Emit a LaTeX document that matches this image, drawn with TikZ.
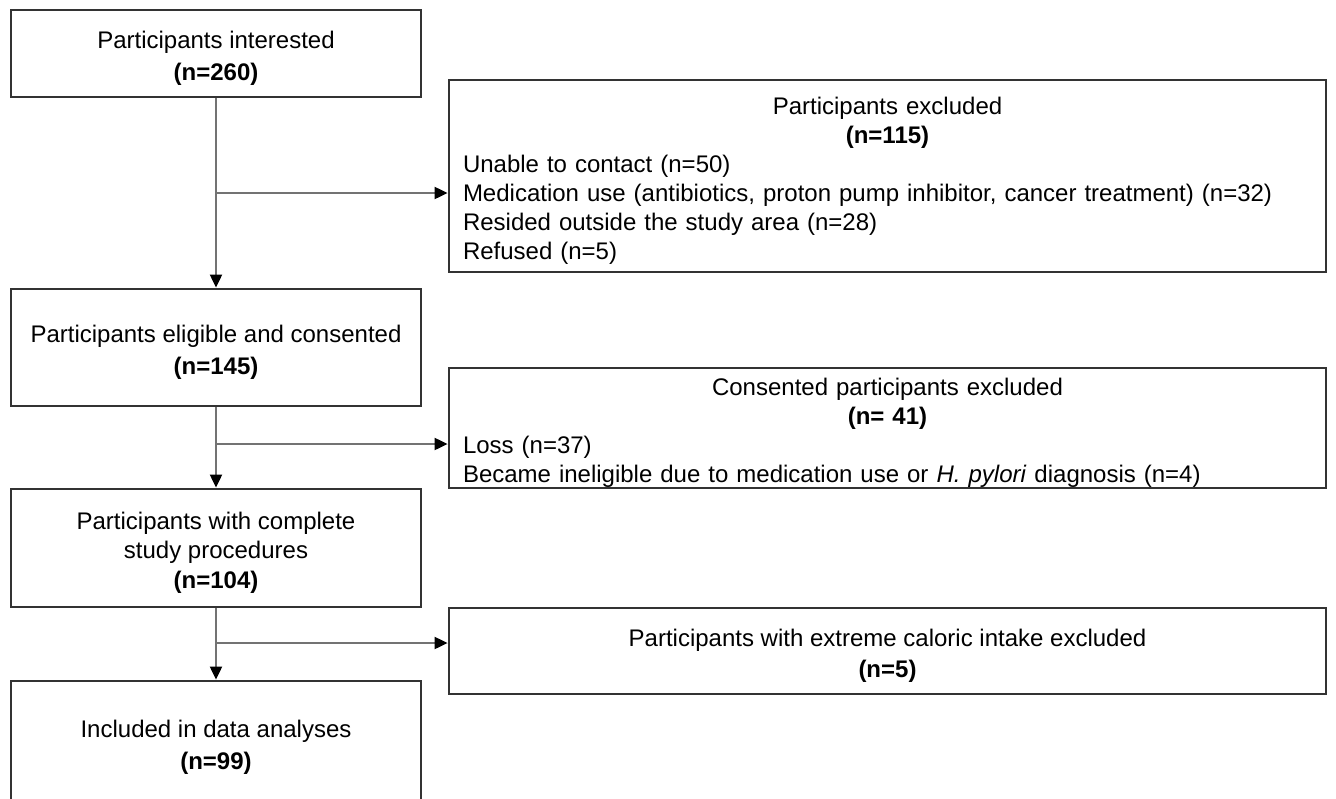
\documentclass[tikz,border=0pt]{standalone}
\usepackage{fontspec}
\setmainfont{Liberation Sans}
\usetikzlibrary{arrows.meta}
\newcommand\topstrut{\rule{0pt}{26.5pt}}
\begin{document}
\begin{tikzpicture}[x=1pt,y=-1pt,
  box/.style={draw=black!80, line width=2.8pt, inner sep=0pt, fill=white,
    font=\fontsize{24}{31.5}\selectfont, align=center},
  leftbox/.style={box, minimum width=410pt},
  rightbox/.style={box, minimum width=877pt, text width=849pt, align=left,
    font=\fontsize{24}{29}\selectfont},
  conn/.style={draw=black!55, line width=2pt},
  arr/.style={conn, -{Triangle[length=13pt,width=12pt,fill=black,color=black]}}
]
\useasboundingbox (0,0) rectangle (1336,798);
\fill[white] (0,0) rectangle (1336,798);

\node[leftbox, minimum height=87pt] (b1) at (216,53.5)
  {\topstrut Participants interested\\ \textbf{(n=260)}};
\node[rightbox, minimum height=192pt] (b2) at (887.5,176)
  {\makebox[\linewidth][c]{\topstrut Participants excluded}\\
   \makebox[\linewidth][c]{\textbf{(n=115)}}\\
   Unable to contact (n=50)\\
   Medication use (antibiotics, proton pump inhibitor, cancer treatment) (n=32)\\
   Resided outside the study area (n=28)\\
   Refused (n=5)};
\node[leftbox, minimum height=117pt] (b3) at (216,347.5)
  {\topstrut Participants eligible and consented\\ \textbf{(n=145)}};
\node[rightbox, minimum height=120pt] (b4) at (887.5,428)
  {\makebox[\linewidth][c]{\topstrut Consented participants excluded}\\
   \makebox[\linewidth][c]{\textbf{(n= 41)}}\\
   Loss (n=37)\\
   Became ineligible due to medication use or \textit{H. pylori} diagnosis (n=4)};
\node[leftbox, minimum height=118pt, font=\fontsize{24}{29.5}\selectfont] (b5) at (216,548)
  {\topstrut Participants with complete\\ study procedures\\ \textbf{(n=104)}};
\node[box, minimum width=877pt, minimum height=86pt] (b6) at (887.5,651)
  {\topstrut Participants with extreme caloric intake excluded\\ \textbf{(n=5)}};
\node[leftbox, minimum height=123pt] (b7) at (216,742.5)
  {\topstrut Included in data analyses\\ \textbf{(n=99)}};

\coordinate (j1) at (216,193);
\coordinate (j2) at (216,444);
\coordinate (j3) at (216,643);

\draw[arr] (b1.south) -- (b3.north);
\draw[arr] (j1) -- (j1 -| b2.west);
\draw[arr] (b3.south) -- (b5.north);
\draw[arr] (j2) -- (j2 -| b4.west);
\draw[arr] (b5.south) -- (b7.north);
\draw[arr] (j3) -- (j3 -| b6.west);
\end{tikzpicture}
\end{document}
